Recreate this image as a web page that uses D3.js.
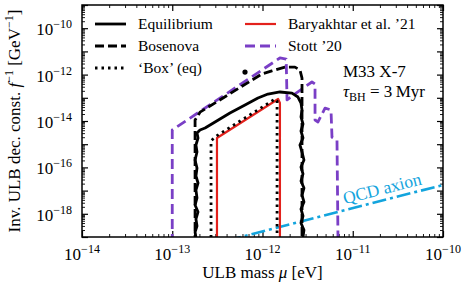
<!DOCTYPE html>
<html>
<head>
<meta charset="utf-8">
<script src="https://cdn.jsdelivr.net/npm/d3@7"></script>
<style>
body { margin: 0; background: #fff; }
text { font-family: "Liberation Serif", "Times New Roman", serif; fill: #000; }
</style>
</head>
<body>
<div id="chart"></div>
<script>
// axis limits and labelled ticks
var massDomain = [1e-14, 1e-10],
    couplingDomain = [1e-19, 1e-9];
var massLabels = [1e-14, 1e-13, 1e-12, 1e-11, 1e-10];
var couplingLabels = [1e-18, 1e-16, 1e-14, 1e-12, 1e-10];

// contours: [mass (eV), 1/f (GeV^-1)]
var equilibrium = [
  [1.88e-13, 5e-20], [1.79e-13, 1.64e-19], [1.88e-13, 2.98e-19], [1.83e-13, 5.97e-19],
  [1.93e-13, 1.20e-18], [1.79e-13, 2.39e-18], [1.88e-13, 4.80e-18], [1.83e-13, 1.06e-17],
  [1.93e-13, 2.13e-17], [1.83e-13, 4.26e-17], [1.88e-13, 9.42e-17], [1.79e-13, 2.08e-16],
  [1.88e-13, 4.61e-16], [1.83e-13, 9.24e-16], [1.93e-13, 1.85e-15], [1.88e-13, 3.04e-15],
  [2.03e-13, 4.1e-15], [2.31e-13, 5.0e-15], [2.98e-13, 9.1e-15], [4.36e-13, 2.2e-14],
  [6.40e-13, 4.9e-14], [8.91e-13, 9.8e-14], [1.15e-12, 1.45e-13], [1.56e-12, 1.78e-13],
  [2.12e-12, 1.6e-13], [2.47e-12, 1.08e-13], [2.67e-12, 5.97e-14], [2.74e-12, 2.98e-14],
  [2.67e-12, 1.49e-14], [2.81e-12, 7.43e-15], [2.67e-12, 3.71e-15], [2.81e-12, 1.85e-15],
  [2.60e-12, 9.24e-16], [2.74e-12, 4.61e-16], [2.88e-12, 2.08e-16], [2.67e-12, 1.04e-16],
  [2.81e-12, 5.20e-17], [2.67e-12, 2.59e-17], [2.88e-12, 1.29e-17], [2.74e-12, 6.46e-18],
  [2.88e-12, 3.23e-18], [2.67e-12, 1.61e-18], [2.81e-12, 8.04e-19], [2.67e-12, 4.01e-19],
  [2.88e-12, 2.00e-19], [2.74e-12, 5e-20]
];
var bosenova = [
  [1.79e-13, 5e-20], [1.79e-13, 1.1e-14], [2.03e-13, 2.4e-14], [9.87e-13, 1.07e-12],
  [1.27e-12, 1.44e-12], [1.77e-12, 2.1e-12], [2.29e-12, 2.1e-12], [2.60e-12, 1.58e-12],
  [2.74e-12, 7.1e-13], [2.74e-12, 5e-20]
];
var bosenovaBlob = [[6.4e-13, 1.29e-12]];
var boxEq = [
  [2.69e-13, 5e-20], [2.69e-13, 1.38e-15], [3.05e-13, 2.2e-15], [1.38e-12, 8.9e-14],
  [1.45e-12, 7.3e-14], [1.45e-12, 5e-20]
];
var baryakhtar = [
  [3.13e-13, 5e-20], [3.13e-13, 1.85e-15], [1.49e-12, 8.9e-14], [1.56e-12, 6.0e-14],
  [1.56e-12, 5e-20]
];
var stott = [
  [1.0e-13, 5e-20], [1.0e-13, 4.1e-15], [1.56e-12, 5.2e-12], [1.83e-12, 4.7e-12],
  [1.87e-12, 8.1e-14], [2.12e-12, 1.2e-13], [3.53e-12, 4.8e-13], [3.82e-12, 3.9e-13],
  [3.82e-12, 1.1e-14], [4.12e-12, 9.1e-15], [4.93e-12, 3.6e-14], [5.74e-12, 3.0e-14],
  [5.89e-12, 2.0e-15], [6.69e-12, 1.5e-15], [6.87e-12, 5e-20]
];
var qcdAxion = [[1e-14, 1.75e-21], [1e-10, 1.75e-17]];

// legend entries
var legendItems = [
  {name: "Equilibrium", col: 0, row: 0, color: "#000", dash: null, width: 2.8},
  {name: "Bosenova", col: 0, row: 1, color: "#000", dash: "9,4", width: 2.8},
  {name: "\u2018Box\u2019 (eq)", col: 0, row: 2, color: "#000", dash: "2.5,4", width: 2.8},
  {name: "Baryakhtar et al. \u201921", col: 1, row: 0, color: "#e3211c", dash: null, width: 2.2},
  {name: "Stott \u201920", col: 1, row: 1, color: "#7a3fc6", dash: "10,5", width: 2.8}
];

var W = 469, H = 290;
var margin = {top: 5, right: 26, bottom: 53, left: 82},
    width = W - margin.left - margin.right,
    height = H - margin.top - margin.bottom;

var x = d3.scaleLog().domain(massDomain).range([0, width]);
var y = d3.scaleLog().domain(couplingDomain).range([height, 0]);

var svg = d3.select("#chart").append("svg")
    .attr("width", W)
    .attr("height", H)
  .append("g")
    .attr("transform", "translate(" + margin.left + "," + margin.top + ")");

svg.append("clipPath").attr("id", "clip")
  .append("rect").attr("width", width).attr("height", height);

// major / minor tick values per decade
function decades(dom) {
  var lo = Math.round(Math.log10(dom[0])), hi = Math.round(Math.log10(dom[1]));
  var major = [], minor = [];
  for (var e = lo; e <= hi; e++) {
    major.push(Math.pow(10, e));
    if (e < hi) for (var k = 2; k < 10; k++) minor.push(k * Math.pow(10, e));
  }
  return {major: major, minor: minor};
}
var xt = decades(massDomain), yt = decades(couplingDomain);

function tickAxis(axis, values, size) {
  return axis.tickValues(values).tickSize(-size).tickFormat("");
}
var axes = [
  {gen: d3.axisBottom(x), sc: xt, tr: "translate(0," + height + ")"},
  {gen: d3.axisTop(x), sc: xt, tr: "translate(0,0)"},
  {gen: d3.axisLeft(y), sc: yt, tr: "translate(0,0)"},
  {gen: d3.axisRight(y), sc: yt, tr: "translate(" + width + ",0)"}
];
axes.forEach(function(a) {
  [[a.sc.major, 6], [a.sc.minor, 3]].forEach(function(p) {
    var g = svg.append("g").attr("transform", a.tr)
      .call(tickAxis(a.gen, p[0], p[1]));
    g.select(".domain").remove();
    g.selectAll("line").attr("stroke", "#000").attr("stroke-width", p[1] > 4 ? 1.2 : 0.9);
  });
});

// curves
var line = d3.line()
    .x(function(d) { return x(d[0]); })
    .y(function(d) { return y(d[1]); });

var plot = svg.append("g").attr("clip-path", "url(#clip)");

function drawCurve(data, color, w, dash) {
  plot.append("path")
    .datum(data)
    .attr("d", line)
    .attr("fill", "none")
    .attr("stroke", color)
    .attr("stroke-width", w)
    .attr("stroke-linejoin", "round")
    .attr("stroke-dasharray", dash);
}
drawCurve(qcdAxion, "#13a4dd", 2.6, "14,4,3,4");
drawCurve(stott, "#7a3fc6", 2.8, "10,5");
drawCurve(bosenova, "#000", 2.8, "9,4");
drawCurve(equilibrium, "#000", 2.8, null);
drawCurve(baryakhtar, "#e3211c", 2.2, null);
drawCurve(boxEq, "#000", 2.8, "2.5,4");

plot.selectAll(".blob")
  .data(bosenovaBlob)
  .enter().append("circle")
    .attr("cx", function(d) { return x(d[0]); })
    .attr("cy", function(d) { return y(d[1]); })
    .attr("r", 2.6)
    .attr("fill", "#000");

// QCD axion label, placed along the line near its right end
var p0 = [x(qcdAxion[0][0]), y(qcdAxion[0][1])],
    p1 = [x(qcdAxion[1][0]), y(qcdAxion[1][1])];
var ang = Math.atan2(p1[1] - p0[1], p1[0] - p0[0]) * 180 / Math.PI;
var t = 0.728;
svg.append("text")
  .attr("transform", "translate(" + (p0[0] + t * (p1[0] - p0[0])) + "," +
        (p0[1] + t * (p1[1] - p0[1]) - 6) + ") rotate(" + ang + ")")
  .style("font-size", "17.5px")
  .style("fill", "#13a4dd")
  .text("QCD axion");

// frame
svg.append("rect")
  .attr("width", width).attr("height", height)
  .attr("fill", "none").attr("stroke", "#000").attr("stroke-width", 1.5);

// tick labels 10^n
function powLabel(sel, v) {
  sel.append("tspan").text("10");
  sel.append("tspan").attr("dy", -7).style("font-size", "12px")
    .text("\u2212" + Math.abs(Math.round(Math.log10(v))));
}
massLabels.forEach(function(v) {
  var t = svg.append("text")
    .attr("x", x(v)).attr("y", height + 23)
    .attr("text-anchor", "middle")
    .style("font-size", "17px");
  powLabel(t, v);
});
couplingLabels.forEach(function(v) {
  var t = svg.append("text")
    .attr("x", -10).attr("y", y(v) + 7)
    .attr("text-anchor", "end")
    .style("font-size", "17px");
  powLabel(t, v);
});

// axis titles
var xl = svg.append("text")
  .attr("x", width / 2).attr("y", height + 41)
  .attr("text-anchor", "middle")
  .style("font-size", "17px");
xl.append("tspan").text("ULB mass ");
xl.append("tspan").style("font-style", "italic").text("\u03bc");
xl.append("tspan").text(" [eV]");

var yl = svg.append("text")
  .attr("transform", "translate(" + (-margin.left + 20) + "," + (height / 2) + ") rotate(-90)")
  .attr("text-anchor", "middle")
  .style("font-size", "17px");
yl.append("tspan").text("Inv. ULB dec. const. ");
yl.append("tspan").style("font-style", "italic").text("f");
yl.append("tspan").attr("dy", -7).style("font-size", "12px").text("\u22121");
yl.append("tspan").attr("dy", 7).text(" [GeV");
yl.append("tspan").attr("dy", -7).style("font-size", "12px").text("\u22121");
yl.append("tspan").attr("dy", 7).text("]");

// legend
var colX = [13, 163], rowY = [19, 41, 63];
legendItems.forEach(function(d) {
  var lx = colX[d.col], ly = rowY[d.row];
  svg.append("line")
    .attr("x1", lx).attr("x2", lx + 31)
    .attr("y1", ly).attr("y2", ly)
    .attr("stroke", d.color)
    .attr("stroke-width", d.width)
    .attr("stroke-dasharray", d.dash);
  svg.append("text")
    .attr("x", lx + 43).attr("y", ly + 5)
    .style("font-size", "15.5px")
    .text(d.name);
});

// system annotation
svg.append("text")
  .attr("x", 261).attr("y", 72)
  .style("font-size", "17px")
  .text("M33 X-7");
var tau = svg.append("text")
  .attr("x", 261).attr("y", 92)
  .style("font-size", "17px");
tau.append("tspan").style("font-style", "italic").text("\u03c4");
tau.append("tspan").attr("dy", 4).style("font-size", "12px").text("BH");
tau.append("tspan").attr("dy", -4).text(" = 3\u2009Myr");
</script>
</body>
</html>
